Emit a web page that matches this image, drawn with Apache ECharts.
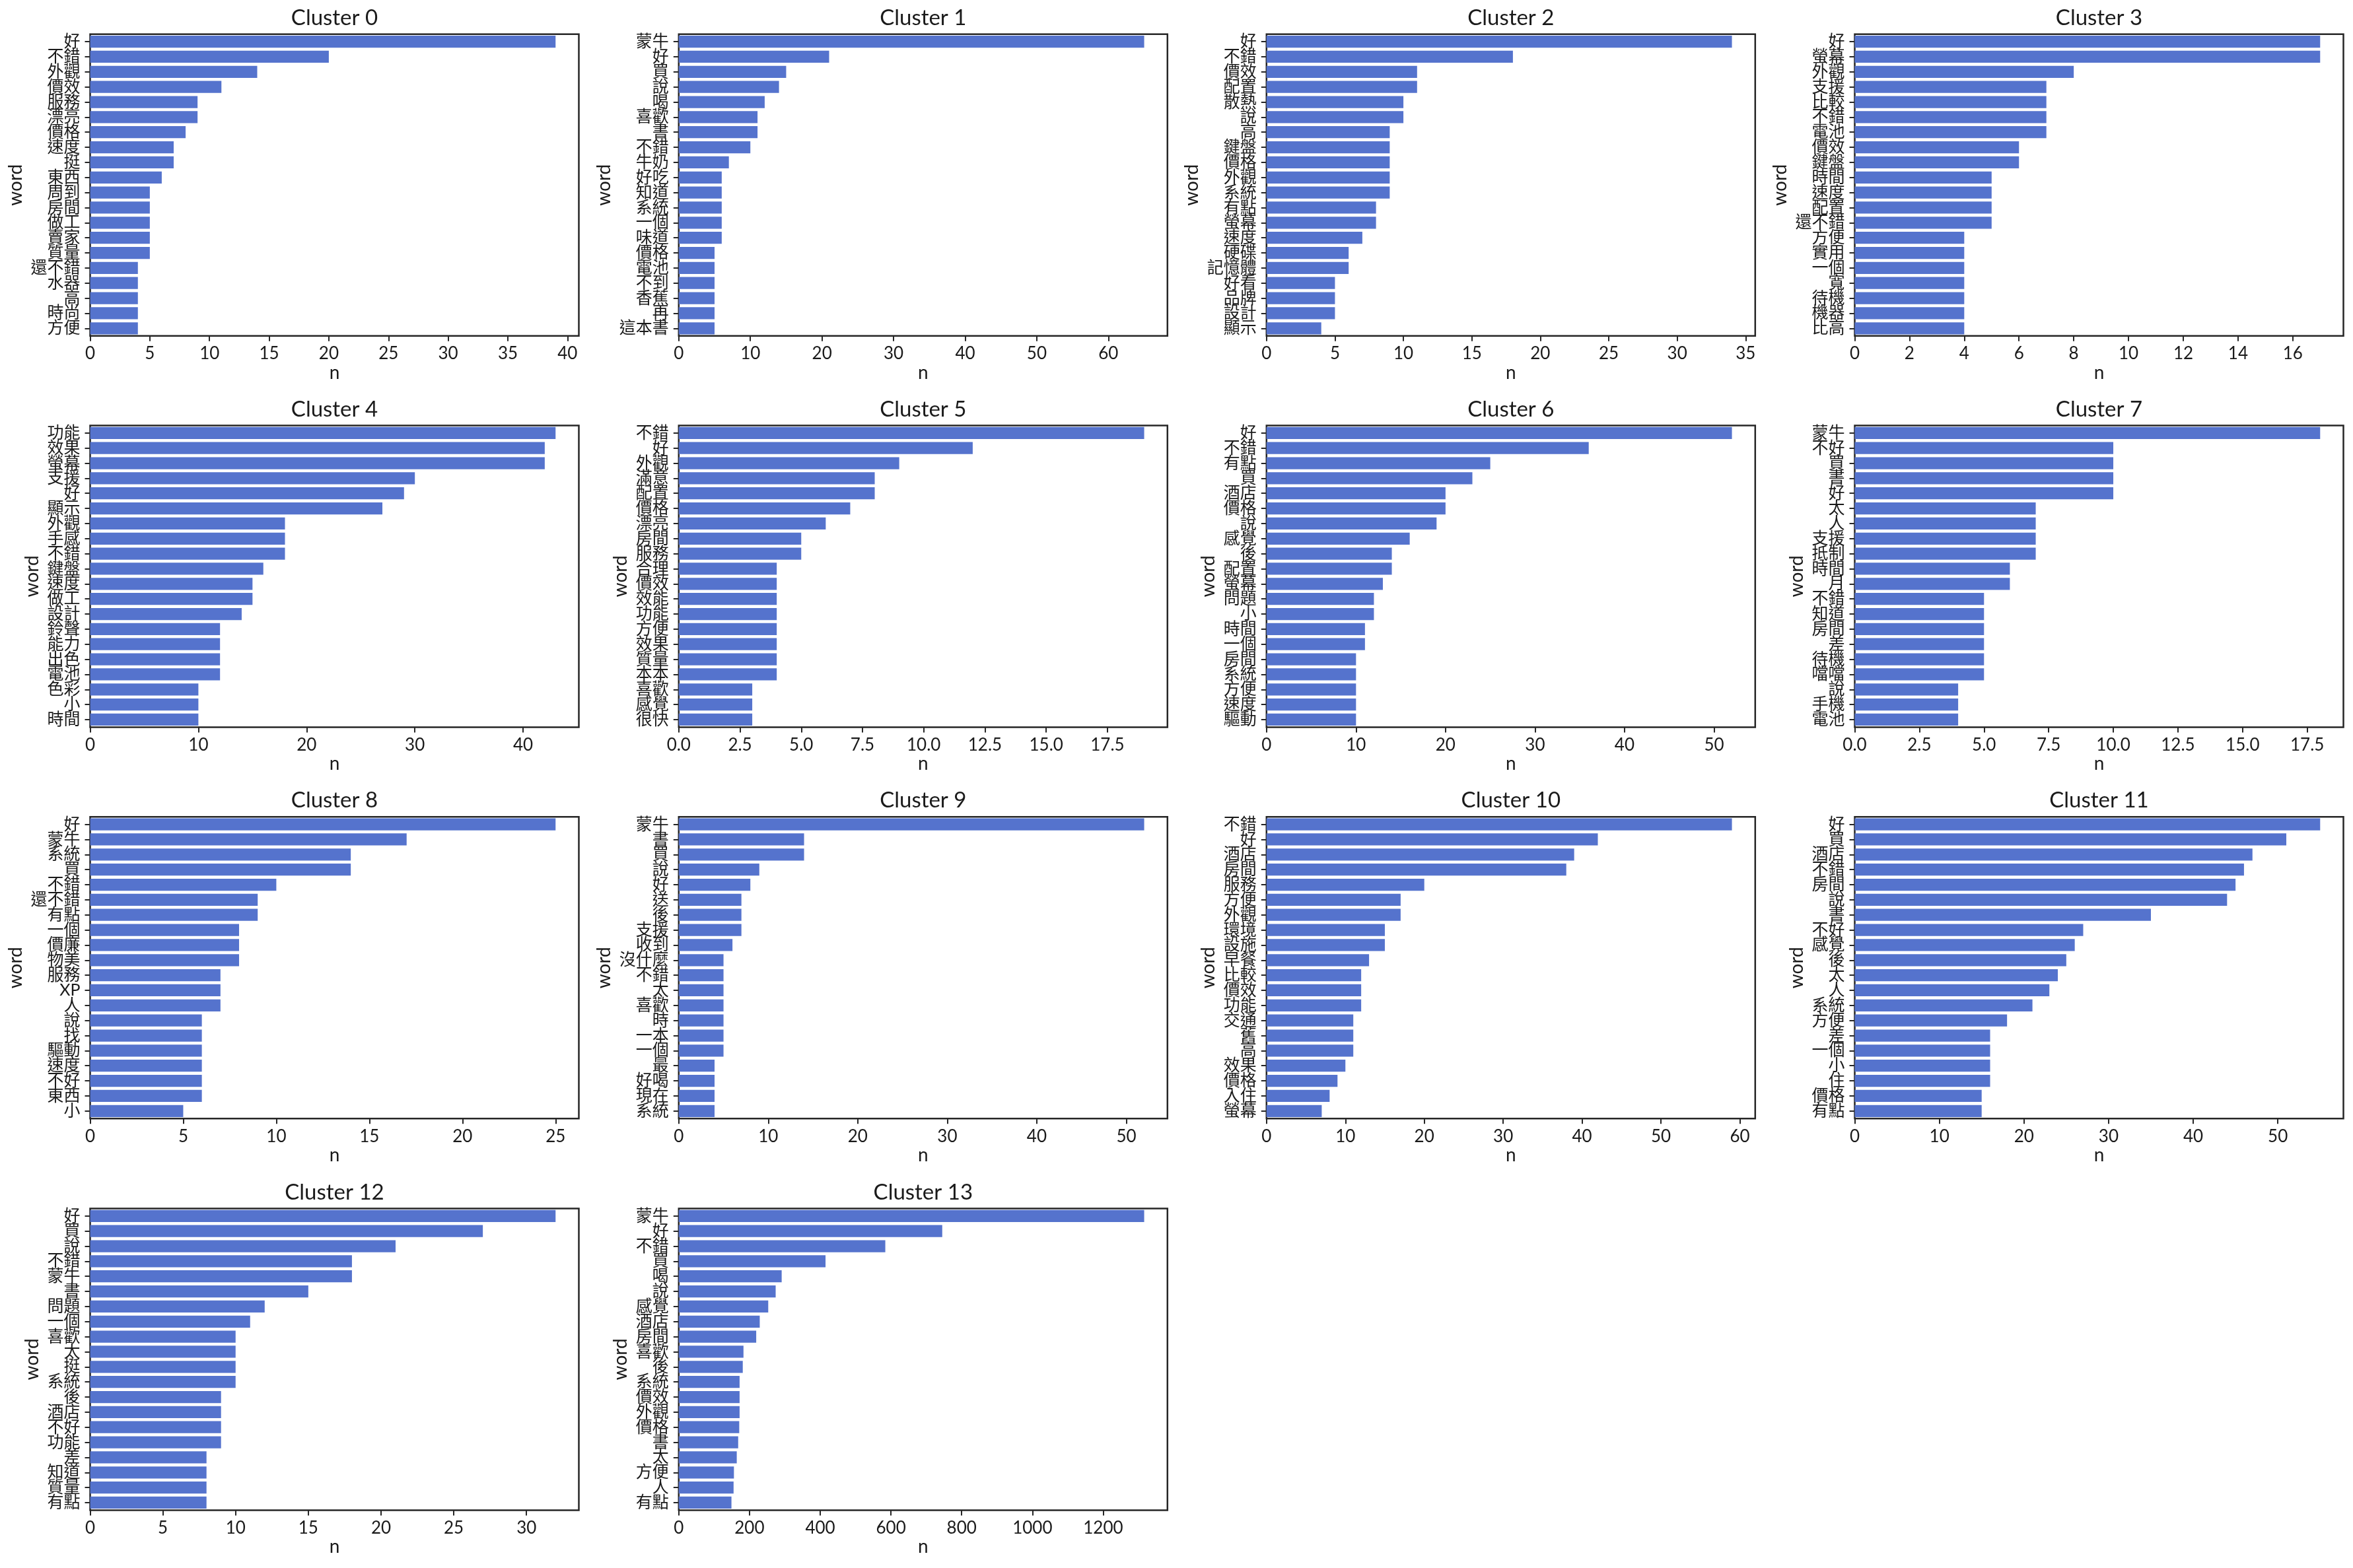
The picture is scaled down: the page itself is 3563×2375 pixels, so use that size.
<!DOCTYPE html>
<html>
<head>
<meta charset="utf-8">
<script src="https://cdn.jsdelivr.net/npm/echarts@6/dist/echarts.min.js"></script>
<style>
html,body{margin:0;padding:0;background:#fff;}
#chart{width:3563px;height:2375px;}
</style>
</head>
<body>
<div id="chart"></div>
<script>
// ---------- data ----------
const words0 = ['好','不錯','外觀','價效','服務','漂亮','價格','速度','挺','東西','周到','房間','做工','賣家','質量','還不錯','水器','高','時尚','方便'];
const counts0 = [39,20,14,11,9,9,8,7,7,6,5,5,5,5,5,4,4,4,4,4];
const ticks0 = ['0','5','10','15','20','25','30','35','40'];

const words1 = ['蒙牛','好','買','說','喝','喜歡','書','不錯','牛奶','好吃','知道','系統','一個','味道','價格','電池','不到','香蕉','再','這本書'];
const counts1 = [65,21,15,14,12,11,11,10,7,6,6,6,6,6,5,5,5,5,5,5];
const ticks1 = ['0','10','20','30','40','50','60'];

const words2 = ['好','不錯','價效','配置','散熱','說','高','鍵盤','價格','外觀','系統','有點','螢幕','速度','硬碟','記憶體','好看','品牌','設計','顯示'];
const counts2 = [34,18,11,11,10,10,9,9,9,9,9,8,8,7,6,6,5,5,5,4];
const ticks2 = ['0','5','10','15','20','25','30','35'];

const words3 = ['好','螢幕','外觀','支援','比較','不錯','電池','價效','鍵盤','時間','速度','配置','還不錯','方便','實用','一個','寬','待機','機器','比高'];
const counts3 = [17,17,8,7,7,7,7,6,6,5,5,5,5,4,4,4,4,4,4,4];
const ticks3 = ['0','2','4','6','8','10','12','14','16'];

const words4 = ['功能','效果','螢幕','支援','好','顯示','外觀','手感','不錯','鍵盤','速度','做工','設計','鈴聲','能力','出色','電池','色彩','小','時間'];
const counts4 = [43,42,42,30,29,27,18,18,18,16,15,15,14,12,12,12,12,10,10,10];
const ticks4 = ['0','10','20','30','40'];

const words5 = ['不錯','好','外觀','滿意','配置','價格','漂亮','房間','服務','合理','價效','效能','功能','方便','效果','質量','本本','喜歡','感覺','很快'];
const counts5 = [19,12,9,8,8,7,6,5,5,4,4,4,4,4,4,4,4,3,3,3];
const ticks5 = ['0.0','2.5','5.0','7.5','10.0','12.5','15.0','17.5'];

const words6 = ['好','不錯','有點','買','酒店','價格','說','感覺','後','配置','螢幕','問題','小','時間','一個','房間','系統','方便','速度','驅動'];
const counts6 = [52,36,25,23,20,20,19,16,14,14,13,12,12,11,11,10,10,10,10,10];
const ticks6 = ['0','10','20','30','40','50'];

const words7 = ['蒙牛','不好','買','書','好','太','人','支援','抵制','時間','月','不錯','知道','房間','差','待機','噹噹','說','手機','電池'];
const counts7 = [18,10,10,10,10,7,7,7,7,6,6,5,5,5,5,5,5,4,4,4];
const ticks7 = ['0.0','2.5','5.0','7.5','10.0','12.5','15.0','17.5'];

const words8 = ['好','蒙牛','系統','買','不錯','還不錯','有點','一個','價廉','物美','服務','XP','人','說','找','驅動','速度','不好','東西','小'];
const counts8 = [25,17,14,14,10,9,9,8,8,8,7,7,7,6,6,6,6,6,6,5];
const ticks8 = ['0','5','10','15','20','25'];

const words9 = ['蒙牛','書','買','說','好','送','後','支援','收到','沒什麼','不錯','太','喜歡','時','一本','一個','最','好喝','現在','系統'];
const counts9 = [52,14,14,9,8,7,7,7,6,5,5,5,5,5,5,5,4,4,4,4];
const ticks9 = ['0','10','20','30','40','50'];

const words10 = ['不錯','好','酒店','房間','服務','方便','外觀','環境','設施','早餐','比較','價效','功能','交通','舊','高','效果','價格','入住','螢幕'];
const counts10 = [59,42,39,38,20,17,17,15,15,13,12,12,12,11,11,11,10,9,8,7];
const ticks10 = ['0','10','20','30','40','50','60'];

const words11 = ['好','買','酒店','不錯','房間','說','書','不好','感覺','後','太','人','系統','方便','差','一個','小','住','價格','有點'];
const counts11 = [55,51,47,46,45,44,35,27,26,25,24,23,21,18,16,16,16,16,15,15];
const ticks11 = ['0','10','20','30','40','50'];

const words12 = ['好','買','說','不錯','蒙牛','書','問題','一個','喜歡','太','挺','系統','後','酒店','不好','功能','差','知道','質量','有點'];
const counts12 = [32,27,21,18,18,15,12,11,10,10,10,10,9,9,9,9,8,8,8,8];
const ticks12 = ['0','5','10','15','20','25','30'];

const words13 = ['蒙牛','好','不錯','買','喝','說','感覺','酒店','房間','喜歡','後','系統','價效','外觀','價格','書','太','方便','人','有點'];
const counts13 = [1316,745,584,415,291,274,253,229,219,183,181,172,172,172,171,168,164,156,155,149];
const ticks13 = ['0','200','400','600','800','1000','1200'];

const panels = [
  [words0,counts0,ticks0],[words1,counts1,ticks1],[words2,counts2,ticks2],[words3,counts3,ticks3],
  [words4,counts4,ticks4],[words5,counts5,ticks5],[words6,counts6,ticks6],[words7,counts7,ticks7],
  [words8,counts8,ticks8],[words9,counts9,ticks9],[words10,counts10,ticks10],[words11,counts11,ticks11],
  [words12,counts12,ticks12],[words13,counts13,ticks13]
];

// ---------- layout ----------
const colLeft = [136.5, 1027.8, 1917.8, 2808.5];
const rowTop = [51.7, 644.4, 1237.2, 1830.4];
const plotW = 740, plotH = 457;
const FONT = "Lato, 'Noto Sans CJK TC', 'Noto Sans', sans-serif";
const BAR = '#5573CD';
const INK = '#1a1a1a';
const SPINE = '#262626';

const grids = [], xAxes = [], yAxes = [], series = [], graphics = [];

panels.forEach((p, i) => {
  const [words, counts, ticks] = p;
  const r = Math.floor(i / 4), c = i % 4;
  const left = colLeft[c], top = rowTop[r];
  const maxV = Math.max(...counts);
  const tickVals = ticks.map(Number);
  const maxLen = Math.max(...words.map(w => w.length));

  grids.push({
    left: left, top: top, width: plotW, height: plotH,
    show: true, borderColor: SPINE, borderWidth: 2.5, backgroundColor: 'transparent',
    containLabel: false
  });

  xAxes.push({
    type: 'value', gridIndex: i, min: 0, max: maxV * 1.05,
    name: 'n', nameLocation: 'middle', nameGap: 42,
    nameTextStyle: { fontSize: 28, color: INK, fontFamily: FONT },
    axisLine: { show: false },
    splitLine: { show: false },
    axisTick: { show: true, length: 8, inside: false, customValues: tickVals,
      lineStyle: { color: SPINE, width: 2 } },
    axisLabel: { show: true, customValues: tickVals, margin: 14, fontSize: 26, color: INK, fontFamily: FONT,
      formatter: v => { const k = tickVals.indexOf(v); return k >= 0 ? ticks[k] : ''; } }
  });

  yAxes.push({
    type: 'category', gridIndex: i, data: words, inverse: true,
    name: 'word', nameLocation: 'middle', nameRotate: 90,
    nameGap: 24 + 25 * maxLen,
    nameTextStyle: { fontSize: 28, color: INK, fontFamily: FONT },
    axisLine: { show: false },
    axisTick: { show: true, length: 8, inside: false, alignWithLabel: true,
      lineStyle: { color: SPINE, width: 2 } },
    axisLabel: { interval: 0, margin: 15, fontSize: 25, color: INK, fontFamily: FONT },
    splitLine: { show: false }
  });

  series.push({
    type: 'bar', xAxisIndex: i, yAxisIndex: i, data: counts,
    barCategoryGap: '20%', itemStyle: { color: BAR }, silent: true
  });

  graphics.push({
    type: 'text', x: left + plotW / 2, y: top - 24.5,
    style: { text: 'Cluster ' + i, align: 'center', verticalAlign: 'middle',
      fontSize: 33, fontFamily: FONT, fill: INK }
  });
});

const chart = echarts.init(document.getElementById('chart'), null, { renderer: 'canvas' });
chart.setOption({
  backgroundColor: '#ffffff',
  animation: false,
  grid: grids, xAxis: xAxes, yAxis: yAxes, series: series,
  graphic: graphics
});
</script>
</body>
</html>
